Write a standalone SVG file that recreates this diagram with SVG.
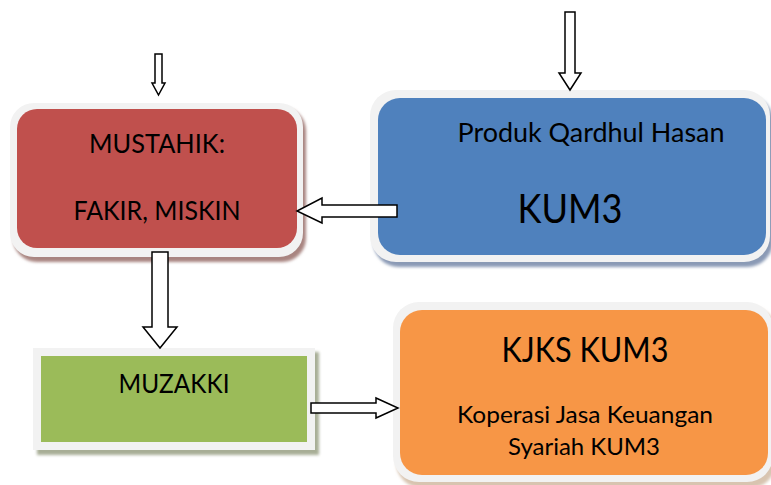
<svg xmlns="http://www.w3.org/2000/svg" width="771" height="485" viewBox="0 0 771 485">
<defs>
<style>
.t{font-family:Lato,"Open Sans","Noto Sans",sans-serif;fill:#000;text-anchor:middle}
.frame{fill:#F2F2F2}
.arr{fill:#fff;stroke:#000;stroke-width:1.5;stroke-linejoin:miter}
</style>
<filter id="sh" x="-10%" y="-10%" width="130%" height="130%"><feGaussianBlur stdDeviation="1.5"/></filter>
</defs>
<rect width="771" height="485" fill="#fff"/>
<g id="mustahik">
<rect x="13" y="107" width="293" height="155" rx="24" fill="#A88480" filter="url(#sh)"/>
<rect class="frame" x="10" y="103" width="293" height="154" rx="24"/>
<rect x="17" y="109" width="280" height="139" rx="20" fill="#C0504D"/>
<text class="t" x="157" y="153" font-size="26.5" textLength="136" lengthAdjust="spacingAndGlyphs">MUSTAHIK:</text>
<text class="t" x="157" y="220" font-size="26.5" textLength="167" lengthAdjust="spacingAndGlyphs">FAKIR, MISKIN</text>
</g>
<g id="produk">
<rect x="373" y="95" width="400" height="172" rx="26" fill="#8A9AB5" filter="url(#sh)"/>
<rect class="frame" x="370" y="90" width="400" height="172" rx="26"/>
<rect x="378" y="98" width="388" height="157" rx="22" fill="#4F81BD"/>
<text class="t" x="591" y="142" font-size="26.5" textLength="267" lengthAdjust="spacingAndGlyphs">Produk Qardhul Hasan</text>
<text class="t" x="570" y="223" font-size="40" textLength="105" lengthAdjust="spacingAndGlyphs">KUM3</text>
</g>
<g id="muzakki">
<rect x="37" y="352" width="282" height="103" fill="#A8AE96" filter="url(#sh)"/>
<rect class="frame" x="33" y="348" width="282" height="102"/>
<rect x="41" y="356" width="266" height="86" fill="#9BBB59"/>
<text class="t" x="174" y="393" font-size="26.5" textLength="111" lengthAdjust="spacingAndGlyphs">MUZAKKI</text>
</g>
<g id="kjks">
<rect x="396" y="306" width="380" height="182" rx="26" fill="#D8C4B0" filter="url(#sh)"/>
<rect class="frame" x="393" y="302" width="380" height="180" rx="26"/>
<rect x="400" y="310" width="368" height="165" rx="22" fill="#F79646"/>
<text class="t" x="585" y="362" font-size="35" textLength="167" lengthAdjust="spacingAndGlyphs">KJKS KUM3</text>
<text class="t" x="585" y="423" font-size="24" textLength="256" lengthAdjust="spacingAndGlyphs">Koperasi Jasa Keuangan</text>
<text class="t" x="584" y="455" font-size="24" textLength="152" lengthAdjust="spacingAndGlyphs">Syariah KUM3</text>
</g>
<g id="connectors">
<path class="arr" d="M155,54 H162 V83 H165 L158.5,95 L152,83 H155 Z"/>
<path class="arr" d="M565,12 H575 V73 H581 L570,90 L559,73 H565 Z"/>
<path class="arr" d="M397,205 V217 H322 V223 L297,211 L322,198 V205 Z"/>
<path class="arr" d="M152,252 H168 V327 H177 L160,348 L143,327 H152 Z"/>
<path class="arr" d="M311,403 H376 V398 L398,408 L376,418 V413 H311 Z"/>
</g>
</svg>
